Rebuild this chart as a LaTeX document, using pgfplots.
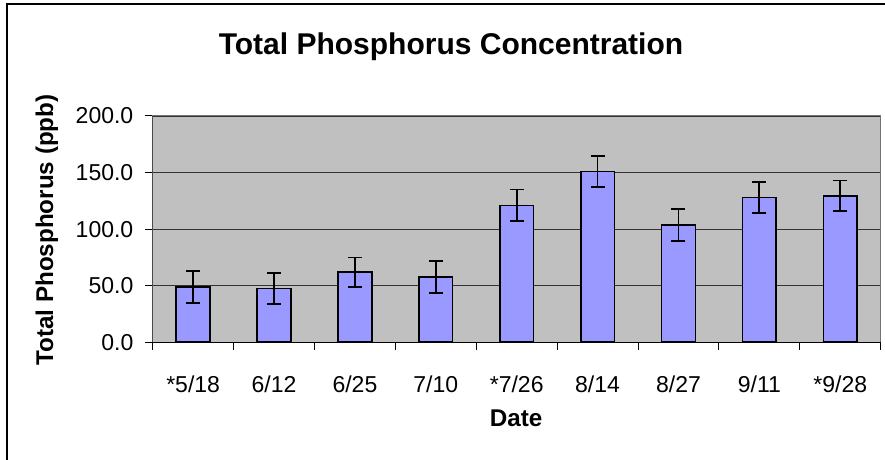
\documentclass[border=0pt]{standalone}
\usepackage{fontspec}
\setmainfont{Liberation Sans}
\usepackage{pgfplots}
\pgfplotsset{compat=1.18}
\definecolor{plotbg}{HTML}{C0C0C0}
\definecolor{barfill}{HTML}{9999FF}
\pgfplotstableread{
x y e
0 49.0 14.0
1 47.5 13.5
2 62.0 13.0
3 57.5 14.0
4 121.0 14.0
5 151.0 13.5
6 103.5 14.0
7 128.0 13.5
8 129.5 13.5
}\tpdata
\begin{document}
\begin{tikzpicture}[x=1pt,y=1pt]
\useasboundingbox (0,0) rectangle (442.5,230);
\fill[white] (0,0) rectangle (442.5,230);
\draw[line width=1pt] (3.25,0) -- (3.25,227.75) -- (443,227.75);
\begin{axis}[
  at={(76.35pt,58.85pt)}, anchor=south west,
  width=364pt, height=113.15pt, scale only axis,
  xmin=-0.5, xmax=8.5, ymin=0, ymax=200,
  ybar, bar width=16.85pt,
  axis background/.style={fill=plotbg},
  axis line style={draw=gray!90!black, line width=0.5pt},
  ytick={0,50,...,200},
  ymajorgrids, grid style={black!80, line width=0.45pt},
  xtick={0,...,8},
  xticklabels={*5/18,6/12,6/25,7/10,*7/26,8/14,8/27,9/11,*9/28},
  major x tick style={draw=none},
  extra x ticks={-0.5,0.5,1.5,2.5,3.5,4.5,5.5,6.5,7.5,8.5},
  extra x tick labels={},
  extra x tick style={major x tick style={draw=black, line width=0.5pt}, grid=none},
  xtick pos=bottom, ytick pos=left,
  tick align=outside, major tick length=3.7pt,
  tick style={black, line width=0.5pt},
  /pgf/number format/assume math mode=true,
  yticklabel style={/pgf/number format/fixed, /pgf/number format/fixed zerofill,
    /pgf/number format/precision=1, font=\fontsize{11.5}{12}\selectfont,
    anchor=east, inner sep=0pt, xshift=-5.8pt},
  xticklabel style={font=\fontsize{11.5}{12}\selectfont, anchor=base, inner sep=0pt, yshift=-21.3pt},
]
\addplot[fill=barfill, draw=black, line width=0.8pt,
  error bars/.cd, y dir=both, y explicit,
  error bar style={black, line width=0.9pt},
  error mark options={rotate=90, mark size=3.5pt, black, line width=0.9pt}]
  table[x=x, y=y, y error=e] {\tpdata};
\draw[black, line width=0.6pt] (rel axis cs:0,0) -- (rel axis cs:0,1);
\draw[black, line width=0.6pt] (rel axis cs:0,0) -- (rel axis cs:1,0);
\end{axis}
\node[anchor=base, font=\fontsize{15}{18}\selectfont\bfseries] at (225.5,202.5) {Total Phosphorus Concentration};
\node[anchor=base, rotate=90, font=\fontsize{12.1}{14}\selectfont\bfseries] at (26.5,115) {Total Phosphorus (ppb)};
\node[anchor=base, font=\fontsize{12.1}{14}\selectfont\bfseries] at (258.1,16.6) {Date};
\end{tikzpicture}
\end{document}
